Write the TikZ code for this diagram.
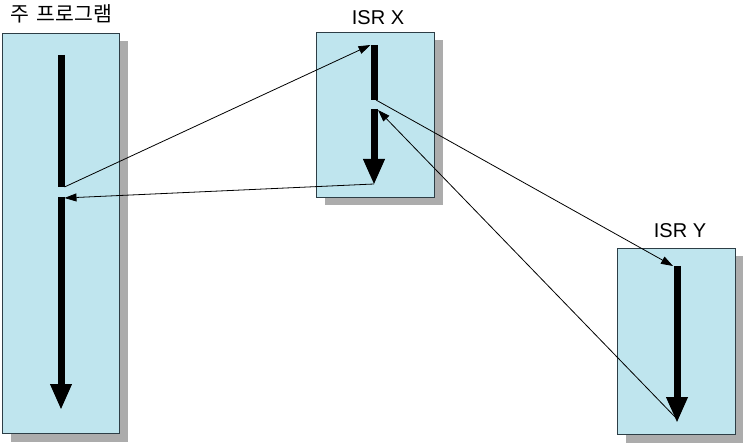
\documentclass[tikz,border=0pt]{standalone}
\usepackage{fontspec}
\setmainfont{Liberation Sans}
\newfontfamily\krfont{Noto Sans CJK KR}
\usetikzlibrary{arrows.meta,shadows}
\definecolor{boxblue}{RGB}{191,229,238}
\definecolor{boxedge}{RGB}{45,62,70}
\definecolor{shadowgray}{RGB}{172,172,172}

\begin{document}
\begin{tikzpicture}[x=1pt,y=-1pt,
  routine/.style={draw=boxedge,fill=boxblue,line width=0.9pt,inner sep=0pt,
    drop shadow={shadow xshift=8.5pt,shadow yshift=-8.5pt,fill=shadowgray,opacity=1}},
  flow/.style={line width=7pt},
  flowend/.style={line width=7pt,-{Triangle[length=26pt,width=20pt]}},
  call/.style={line width=0.8pt,-{Triangle[length=12pt,width=8pt]}},
  lbl/.style={font=\fontsize{20}{23}\selectfont}]
  \useasboundingbox (0,0) rectangle (743,443);
  % boxes
  \node[routine,minimum width=117pt,minimum height=400pt] (main) at (60.5,233) {};
  \node[routine,minimum width=118pt,minimum height=165pt] (isrx) at (375,114.5) {};
  \node[routine,minimum width=118pt,minimum height=186pt] (isry) at (676,341) {};
  \node[lbl] (mainlbl) at (61.5,13.5) {\krfont\fontsize{20.5}{23}\selectfont 주\hspace{0.35em}프로그램};
  \node[lbl] (isrxlbl) at (378,17.5) {ISR X};
  \node[lbl] (isrylbl) at (680,230.5) {ISR Y};
  % execution paths
  \coordinate (m1) at (61,55); \coordinate (m2) at (61,187);
  \coordinate (m3) at (61,197); \coordinate (m4) at (61,410);
  \coordinate (x1) at (374,45); \coordinate (x2) at (374,100);
  \coordinate (x3) at (374,109); \coordinate (x4) at (374,185);
  \coordinate (y1) at (677,266); \coordinate (y2) at (677,423);
  \draw[flow] (m1) -- (m2);
  \draw[flowend] (m3) -- (m4);
  \draw[flow] (x1) -- (x2);
  \draw[flowend] (x3) -- (x4);
  \draw[flowend] (y1) -- (y2);
  % interrupts and returns
  \draw[call] ([xshift=3.5pt]m2) -- ([xshift=-3.5pt]x1);
  \draw[call] ([yshift=1pt]x4) -- ([xshift=3.5pt,yshift=-1pt]m3);
  \draw[call] ([xshift=2pt]x2) -- ([xshift=-4pt]y1);
  \draw[call] ([yshift=4pt]y2) -- ([xshift=4pt,yshift=-1pt]x3);
\end{tikzpicture}
\end{document}
